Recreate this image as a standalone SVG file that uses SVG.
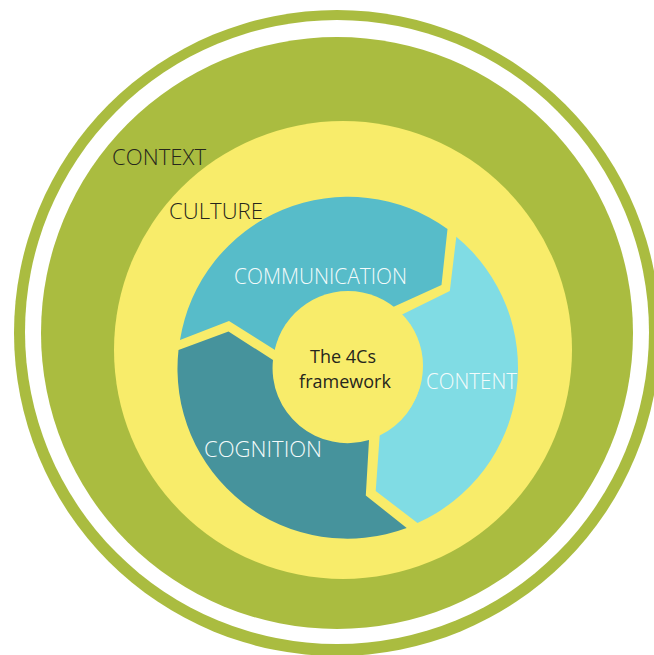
<svg xmlns="http://www.w3.org/2000/svg" width="654" height="655" viewBox="0 0 654 655">
  <style>
    .lbl { font-family: "Open Sans", "Liberation Sans", sans-serif; font-size: 21.5px; font-weight: 300; }
    .dark { fill: #26261c; }
    .light { fill: #f4fbfb; }
    .ctr { font-family: "Open Sans", "Liberation Sans", sans-serif; font-size: 18px; fill: #26261c; text-anchor: middle; }
    .green { fill: #aabc40; }
    .yellow { fill: #f8ec6a; }
  </style>
  <rect width="654" height="655" fill="#ffffff"/>
  <g id="context">
    <circle class="green" cx="337" cy="333" r="323"/>
    <circle fill="#ffffff" cx="337" cy="332" r="312"/>
    <circle class="green" cx="337" cy="333" r="296"/>
    <text class="lbl dark" x="112" y="165" textLength="94" lengthAdjust="spacingAndGlyphs">CONTEXT</text>
  </g>
  <g id="culture">
    <circle class="yellow" cx="343" cy="350" r="229"/>
    <text class="lbl dark" x="169" y="219" textLength="94" lengthAdjust="spacingAndGlyphs">CULTURE</text>
  </g>
  <g id="communication">
    <path fill="#57bcc9" d="M180,340 A170,170 0 0 1 447.5,229 L441.5,285 L392,307.4 A75,75 0 0 0 275,350 L229,321 Z"/>
    <text class="lbl light" x="234" y="284" textLength="173" lengthAdjust="spacingAndGlyphs">COMMUNICATION</text>
  </g>
  <g id="content">
    <path fill="#80dce4" d="M456.3,236.8 A170,170 0 0 1 417.5,523 L375.7,491 L379.7,435.5 A75,75 0 0 0 400.6,315.3 L449.8,291 Z"/>
    <text class="lbl light" x="426" y="389" textLength="91" lengthAdjust="spacingAndGlyphs">CONTENT</text>
  </g>
  <g id="cognition">
    <path fill="#46939c" d="M406.7,528 A170,170 0 0 1 178.5,350 L228.5,331.6 L273,360 A75,75 0 0 0 369,440 L365.8,495.5 Z"/>
    <text class="lbl light" x="204" y="457" textLength="118" lengthAdjust="spacingAndGlyphs">COGNITION</text>
  </g>
  <g id="framework">
    <circle class="yellow" cx="348" cy="366" r="75"/>
    <text class="ctr" x="343" y="363">The 4Cs</text>
    <text class="ctr" x="345" y="388">framework</text>
  </g>
</svg>
